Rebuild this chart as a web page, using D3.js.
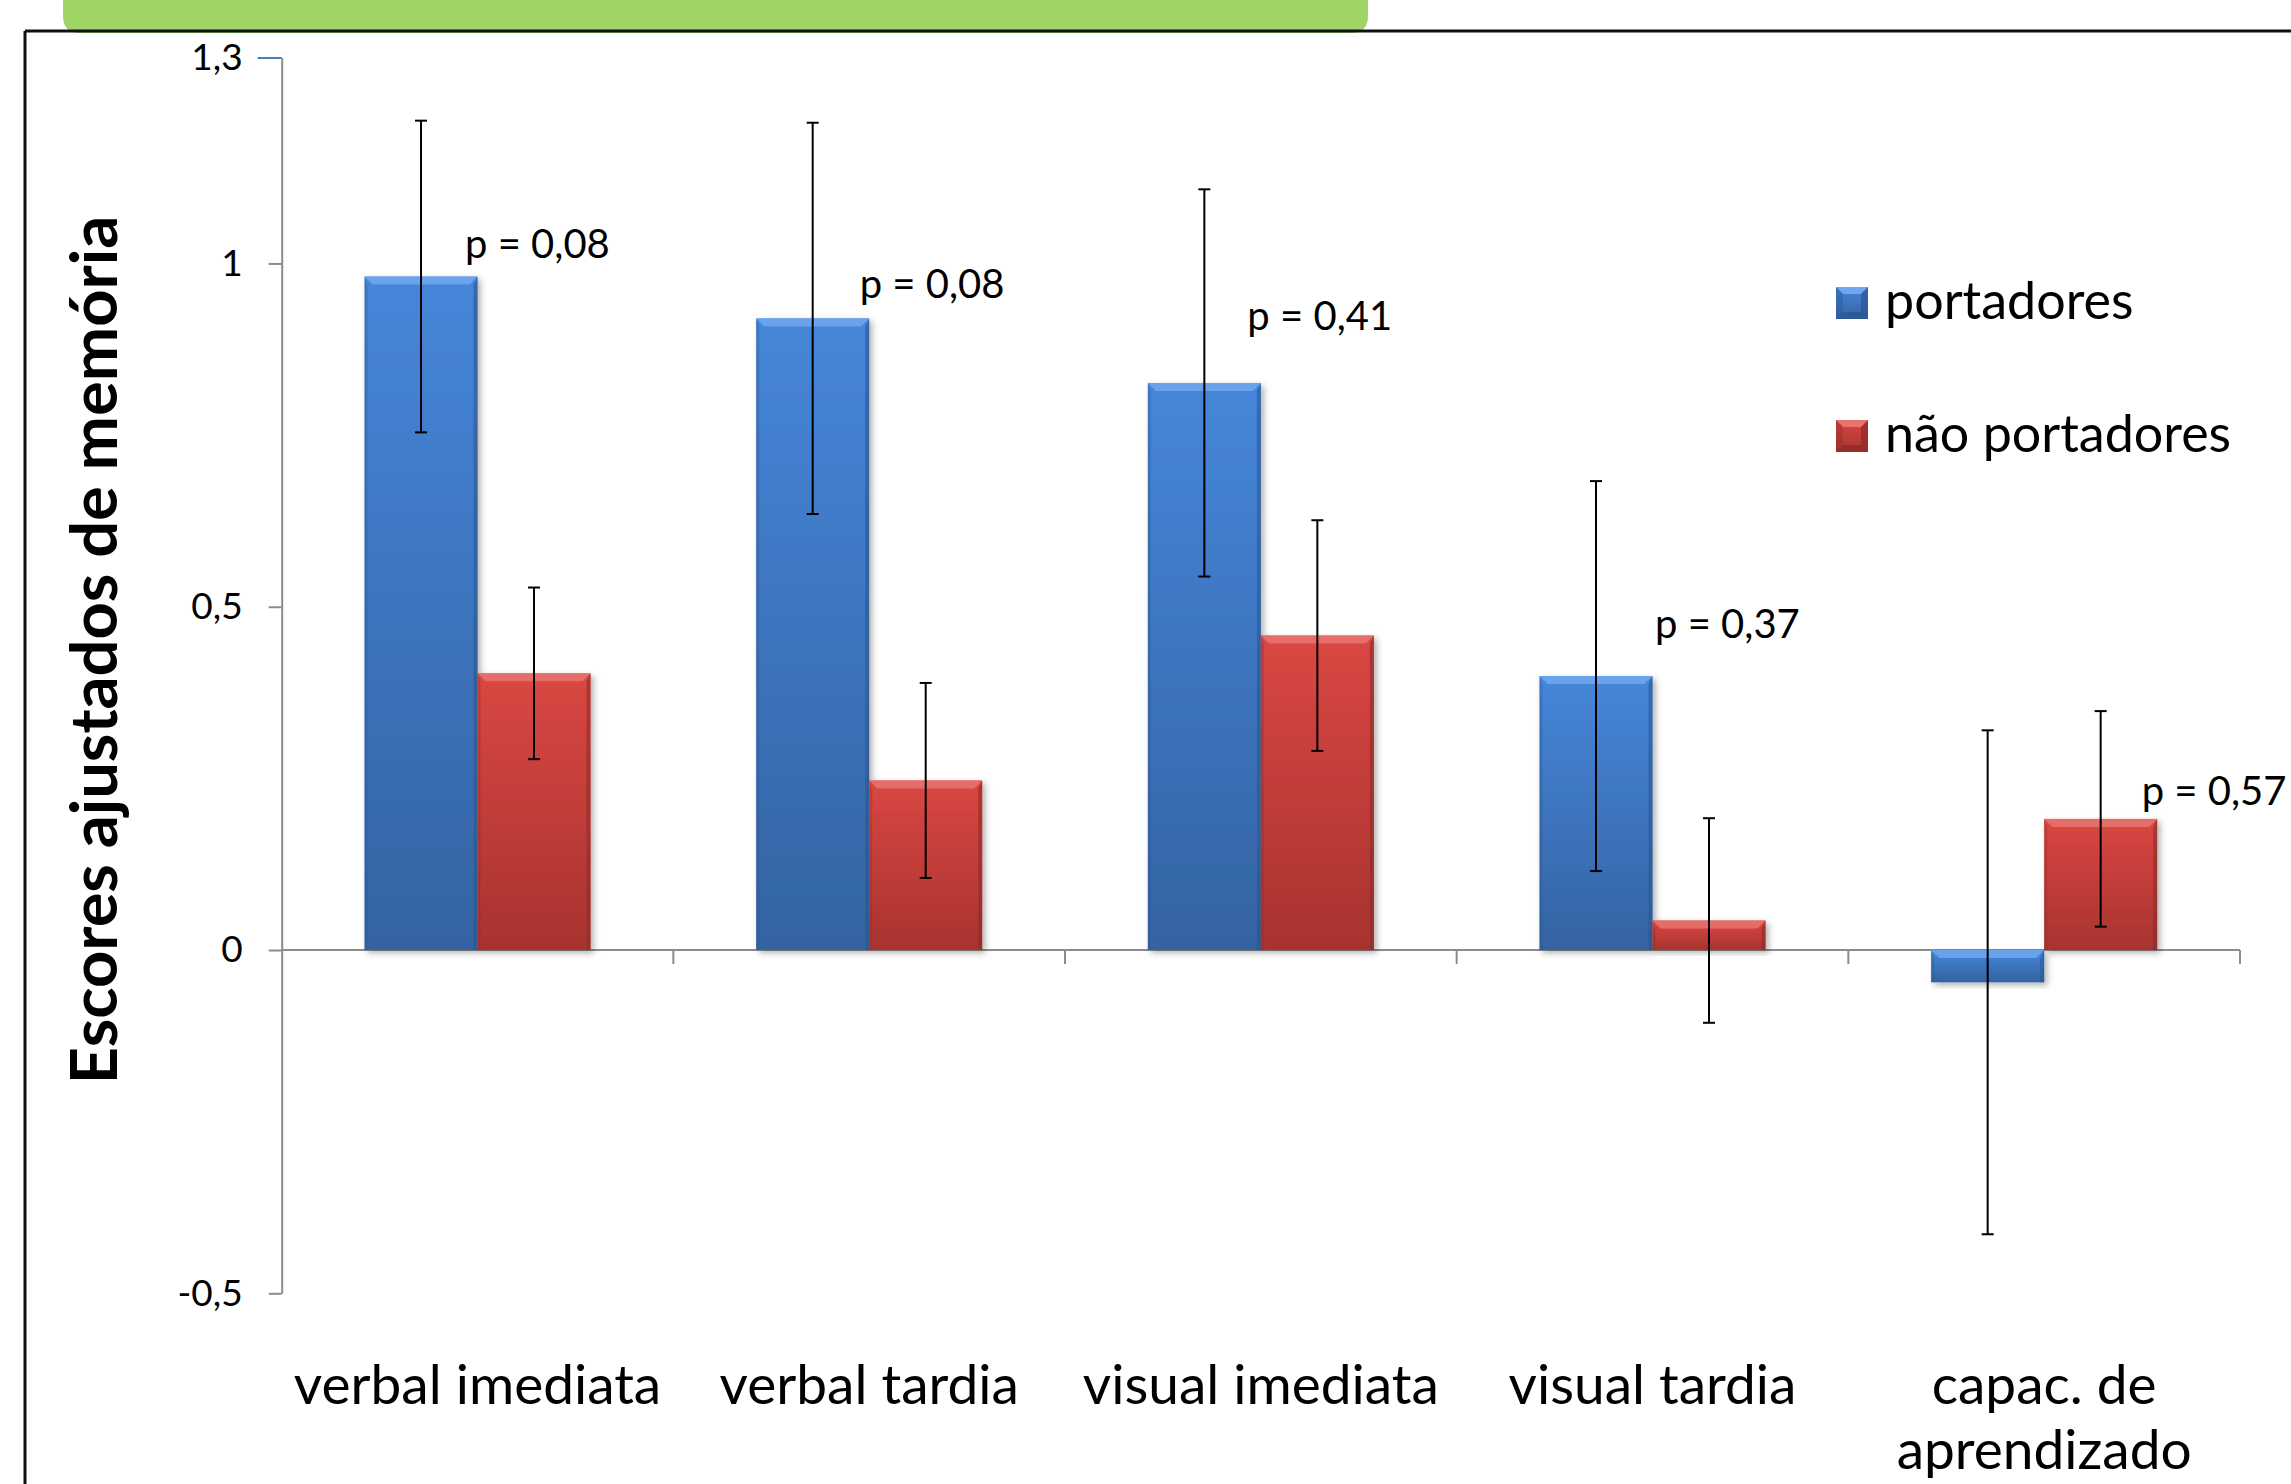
<!DOCTYPE html>
<html>
<head>
<meta charset="utf-8">
<script src="https://cdn.jsdelivr.net/npm/d3@7"></script>
<style>
  html, body { margin: 0; padding: 0; background: #fff; }
  svg { display: block; }
  text { font-family: Lato, "Open Sans", sans-serif; fill: #000; }
</style>
</head>
<body>
<svg id="chart" width="2291" height="1484"></svg>
<script>
// ---------- data ----------
const categories = ["verbal imediata", "verbal tardia", "visual imediata", "visual tardia", "capac. de aprendizado"];
const categoryLines = [["verbal imediata"], ["verbal tardia"], ["visual imediata"], ["visual tardia"], ["capac. de", "aprendizado"]];
const series = ["portadores", "não portadores"];
const portadores = [0.981, 0.920, 0.826, 0.399, -0.047];
const portadoresErr = [0.227, 0.285, 0.282, 0.284, 0.367];
const naoPortadores = [0.403, 0.247, 0.458, 0.043, 0.191];
const naoPortadoresErr = [0.125, 0.142, 0.168, 0.149, 0.157];
const pLabels = ["p = 0,08", "p = 0,08", "p = 0,41", "p = 0,37", "p = 0,57"];
const yTicks = [-0.5, 0, 0.5, 1, 1.3];
const yTickLabels = ["-0,5", "0", "0,5", "1", "1,3"];
const yTitle = "Escores ajustados de memória";

// ---------- layout (not data) ----------
const pLabelY = [1.008, 0.950, 0.903, 0.454, 0.211];      // label baseline in data units
const pLabelSeries = [0, 0, 0, 0, 1];                      // which bar the label sits beside
const pLabelDx = [44, 47, 43, 59, 41];                      // px right of that bar's centre

const svg = d3.select("#chart");
const W = 2291, H = 1484;

const plotLeft = 281.7, plotRight = 2240;
const y = d3.scaleLinear().domain([-0.5, 1.3]).range([1293.3, 57.5]);
const x0 = d3.scaleBand().domain(categories).range([plotLeft, plotRight]).padding(0);
const x1 = d3.scaleBand().domain(series).range([0, x0.bandwidth()]).paddingInner(0).paddingOuter(0.733);

const values = [portadores, naoPortadores];
const errs = [portadoresErr, naoPortadoresErr];
const rows = [];
categories.forEach((c, i) => series.forEach((s, j) => rows.push({ c, i, s, j, v: values[j][i], e: errs[j][i] })));

// ---------- defs ----------
const defs = svg.append("defs");
const palette = [
  { top: "#4686da", bot: "#3463a2", hi: "#6ea8ee", side: "#2c5690" },
  { top: "#da4743", bot: "#a7332f", hi: "#e87470", side: "#8f2a27" }
];
palette.forEach((p, j) => {
  const g = defs.append("linearGradient").attr("id", "grad" + j).attr("x1", 0).attr("y1", 0).attr("x2", 0).attr("y2", 1);
  g.append("stop").attr("offset", "0%").attr("stop-color", p.top);
  g.append("stop").attr("offset", "100%").attr("stop-color", p.bot);
});
const f = defs.append("filter").attr("id", "shadow").attr("x", "-20%").attr("y", "-20%").attr("width", "140%").attr("height", "140%");
f.append("feDropShadow").attr("dx", 3).attr("dy", 3).attr("stdDeviation", 3).attr("flood-color", "#000").attr("flood-opacity", 0.3);

// ---------- frame decoration ----------
svg.append("path")
  .attr("d", `M63,-20 H1368 V16 Q1368,33 1351,33 H80 Q63,33 63,16 Z`)
  .attr("fill", "#9fd466");
svg.append("line").attr("x1", 25).attr("x2", W).attr("y1", 31).attr("y2", 31).attr("stroke", "#111").attr("stroke-width", 3);
svg.append("line").attr("x1", 25).attr("x2", 25).attr("y1", 31).attr("y2", H).attr("stroke", "#111").attr("stroke-width", 3);

// ---------- y axis ----------
const yAxis = d3.axisLeft(y).tickValues(yTicks)
  .tickFormat((d, i) => yTickLabels[i]).tickSize(13).tickSizeOuter(0).tickPadding(26);
const gy = svg.append("g").attr("transform", `translate(${plotLeft},0)`).call(yAxis);
gy.select(".domain").attr("stroke", "#8c8c8c").attr("stroke-width", 2);
gy.selectAll(".tick line").attr("stroke", "#8c8c8c").attr("stroke-width", 2);
gy.selectAll(".tick text").attr("font-size", 37).attr("font-family", "Lato, sans-serif").attr("fill", "#000");
gy.selectAll(".tick").filter(d => d === 1.3).select("line").attr("stroke", "#4a7ebb").attr("x2", -24);

// ---------- zero line + category ticks ----------
svg.append("line").attr("x1", plotLeft).attr("x2", plotRight).attr("y1", y(0)).attr("y2", y(0))
  .attr("stroke", "#8c8c8c").attr("stroke-width", 2);
svg.append("g").selectAll("line").data(categories).join("line")
  .attr("x1", d => x0(d) + x0.bandwidth()).attr("x2", d => x0(d) + x0.bandwidth())
  .attr("y1", y(0)).attr("y2", y(0) + 14)
  .attr("stroke", "#8c8c8c").attr("stroke-width", 2);

// ---------- bars ----------
const bars = svg.append("g");
rows.forEach(r => {
  const bx = x0(r.c) + x1(r.s);
  const bw = x1.bandwidth();
  const top = Math.min(y(r.v), y(0));
  const bh = Math.abs(y(r.v) - y(0));
  const p = palette[r.j];
  const g = bars.append("g").attr("filter", "url(#shadow)");
  g.append("rect").attr("x", bx).attr("y", top).attr("width", bw).attr("height", bh).attr("fill", `url(#grad${r.j})`);
  const b = Math.min(8, bh / 3);
  g.append("path").attr("d", `M${bx},${top} H${bx + bw} L${bx + bw - b},${top + b} H${bx + b} Z`)
    .attr("fill", p.hi).attr("opacity", 0.85);
  g.append("path").attr("d", `M${bx},${top} L${bx + 3},${top + b} V${top + bh} H${bx} Z`)
    .attr("fill", p.side).attr("opacity", 0.35);
  g.append("path").attr("d", `M${bx + bw},${top} L${bx + bw - 4},${top + b} V${top + bh} H${bx + bw} Z`)
    .attr("fill", p.side).attr("opacity", 0.6);
});

// ---------- error bars ----------
const eg = svg.append("g").attr("stroke", "#000").attr("stroke-width", 2);
rows.forEach(r => {
  const cx = x0(r.c) + x1(r.s) + x1.bandwidth() / 2;
  eg.append("line").attr("x1", cx).attr("x2", cx).attr("y1", y(r.v + r.e)).attr("y2", y(r.v - r.e));
  [r.v + r.e, r.v - r.e].forEach(v =>
    eg.append("line").attr("x1", cx - 6).attr("x2", cx + 6).attr("y1", y(v)).attr("y2", y(v)));
});

// ---------- p-value labels ----------
svg.append("g").selectAll("text").data(pLabels).join("text")
  .attr("x", (d, i) => x0(categories[i]) + x1(series[pLabelSeries[i]]) + x1.bandwidth() / 2 + pLabelDx[i])
  .attr("y", (d, i) => y(pLabelY[i]))
  .attr("font-size", 40)
  .text(d => d);

// ---------- category labels ----------
const cl = svg.append("g");
categoryLines.forEach((lines, i) => {
  const t = cl.append("text").attr("text-anchor", "middle").attr("font-size", 55)
    .attr("x", x0(categories[i]) + x0.bandwidth() / 2).attr("y", 1404);
  lines.forEach((ln, k) => t.append("tspan").attr("x", x0(categories[i]) + x0.bandwidth() / 2)
    .attr("dy", k === 0 ? 0 : 65).text(ln));
});

// ---------- y title ----------
svg.append("text")
  .attr("transform", `translate(117,${(216 + 1084) / 2}) rotate(-90)`)
  .attr("text-anchor", "middle").attr("font-size", 65).attr("font-weight", "bold")
  .text(yTitle);

// ---------- legend ----------
const lg = svg.append("g");
series.forEach((s, j) => {
  const sx = 1836, sy = 287 + j * 133, sz = 32, p = palette[j];
  const g = lg.append("g");
  g.append("rect").attr("x", sx).attr("y", sy).attr("width", sz).attr("height", sz).attr("fill", `url(#grad${j})`);
  const b = 7;
  g.append("path").attr("d", `M${sx},${sy} H${sx + sz} L${sx + sz - b},${sy + b} H${sx + b} Z`).attr("fill", p.hi);
  g.append("path").attr("d", `M${sx},${sy} L${sx + b},${sy + b} V${sy + sz - b} L${sx},${sy + sz} Z`).attr("fill", p.side).attr("opacity", 0.4);
  g.append("path").attr("d", `M${sx + sz},${sy} L${sx + sz - b},${sy + b} V${sy + sz - b} L${sx + sz},${sy + sz} Z`).attr("fill", p.side).attr("opacity", 0.7);
  g.append("path").attr("d", `M${sx},${sy + sz} L${sx + b},${sy + sz - b} H${sx + sz - b} L${sx + sz},${sy + sz} Z`).attr("fill", p.side).attr("opacity", 0.8);
  lg.append("text").attr("x", 1885).attr("y", sy + sz).attr("font-size", 52).text(s);
});
</script>
</body>
</html>
